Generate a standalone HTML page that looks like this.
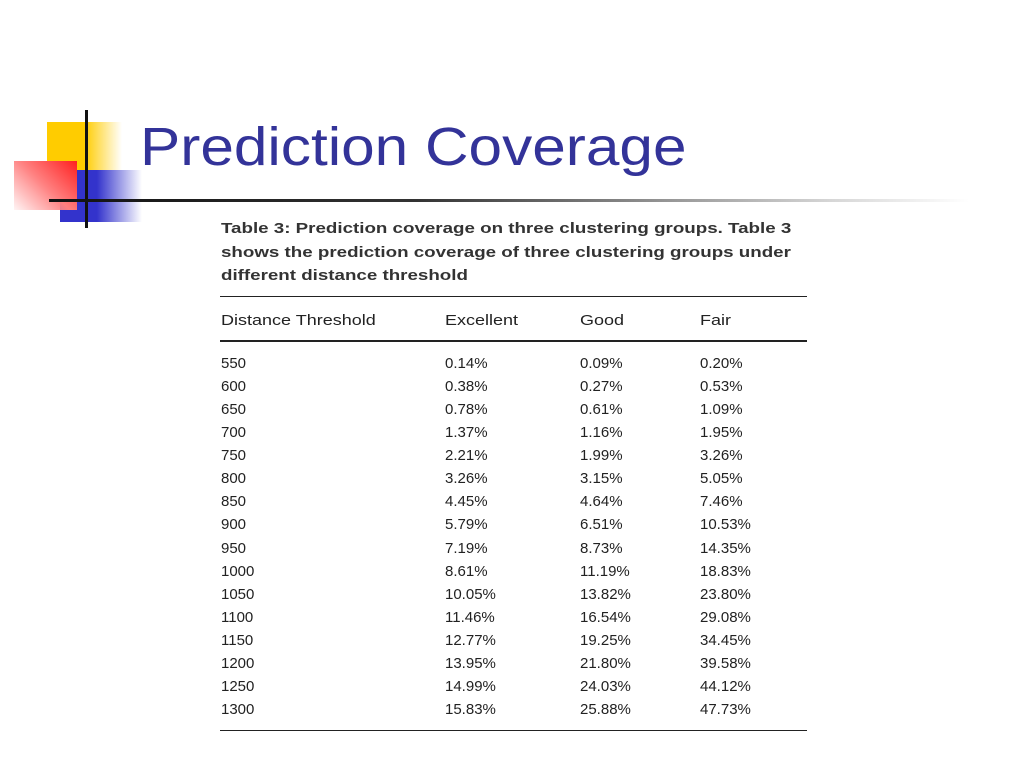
<!DOCTYPE html>
<html><head><meta charset="utf-8">
<style>
body{margin:0;width:1024px;height:768px;background:#fff;position:relative;overflow:hidden;font-family:"Liberation Sans",sans-serif}
.abs{position:absolute}
.t{position:absolute;font-size:15px;color:#222;white-space:nowrap;line-height:18px}
.cap{position:absolute;left:221px;font-size:15px;font-weight:bold;color:#333;white-space:nowrap;line-height:18px;transform:scaleX(1.25);transform-origin:0 0}
</style></head><body>
<div class="abs" style="left:47px;top:122px;width:75px;height:48px;background:linear-gradient(90deg,#ffcc00 0%,#ffcc00 50%,rgba(255,204,0,0) 100%)"></div>
<div class="abs" style="left:60px;top:170px;width:82px;height:52px;background:linear-gradient(90deg,#3333cc 0%,#3333cc 45%,rgba(51,51,204,0) 100%)"></div>
<div class="abs" style="left:14px;top:161px;width:63px;height:49px;background:linear-gradient(225deg,#ff2020 0%,#ff8080 50%,rgba(255,220,220,0.3) 100%)"></div>
<div class="abs" style="left:85px;top:110px;width:3px;height:118px;background:#111"></div>
<div class="abs" style="left:49px;top:199px;width:920px;height:3px;background:linear-gradient(90deg,#111 0%,#333 40%,rgba(120,120,120,0.3) 85%,rgba(255,255,255,0) 100%)"></div>
<div class="abs" style="left:140px;top:112px;font-size:54px;color:#333399;line-height:70px;transform:scaleX(1.117);transform-origin:0 0">Prediction Coverage</div>

<div class="cap" style="top:220px">Table 3: Prediction coverage on three clustering groups. Table 3</div>
<div class="cap" style="top:244px">shows the prediction coverage of three clustering groups under</div>
<div class="cap" style="top:267px">different distance threshold</div>
<div class="abs" style="left:220px;top:296px;width:587px;height:1px;background:#222"></div>
<div class="abs" style="left:220px;top:340px;width:587px;height:2px;background:#222"></div>
<div class="abs" style="left:220px;top:730px;width:587px;height:1px;background:#222"></div>
<div id="tbl"></div>
<script>
const headers=["Distance Threshold","Excellent","Good","Fair"];
const thresholds=["550","600","650","700","750","800","850","900","950","1000","1050","1100","1150","1200","1250","1300"];
const excellent=["0.14%","0.38%","0.78%","1.37%","2.21%","3.26%","4.45%","5.79%","7.19%","8.61%","10.05%","11.46%","12.77%","13.95%","14.99%","15.83%"];
const good=["0.09%","0.27%","0.61%","1.16%","1.99%","3.15%","4.64%","6.51%","8.73%","11.19%","13.82%","16.54%","19.25%","21.80%","24.03%","25.88%"];
const fair=["0.20%","0.53%","1.09%","1.95%","3.26%","5.05%","7.46%","10.53%","14.35%","18.83%","23.80%","29.08%","34.45%","39.58%","44.12%","47.73%"];
const colX=[221,445,580,700];
const tbl=document.getElementById('tbl');
function cell(txt,x,y,name,sx){
  const d=document.createElement('div');
  d.className='t';d.textContent=txt;d.style.left=x+'px';d.style.top=y+'px';
  if(sx){d.style.transform='scaleX('+sx+')';d.style.transformOrigin='0 0';}
  
  
  tbl.appendChild(d);
}
headers.forEach((h,i)=>cell(h,colX[i],312,'header-'+h.toLowerCase().replace(/ /g,'-'),1.2));
const cols=[thresholds,excellent,good,fair];
const names=['threshold','excellent','good','fair'];
thresholds.forEach((t,r)=>{
  const y=355+r*23.07;
  cols.forEach((c,i)=>cell(c[r],colX[i],y,names[i]+'-'+t));
});
</script>
</body></html>
